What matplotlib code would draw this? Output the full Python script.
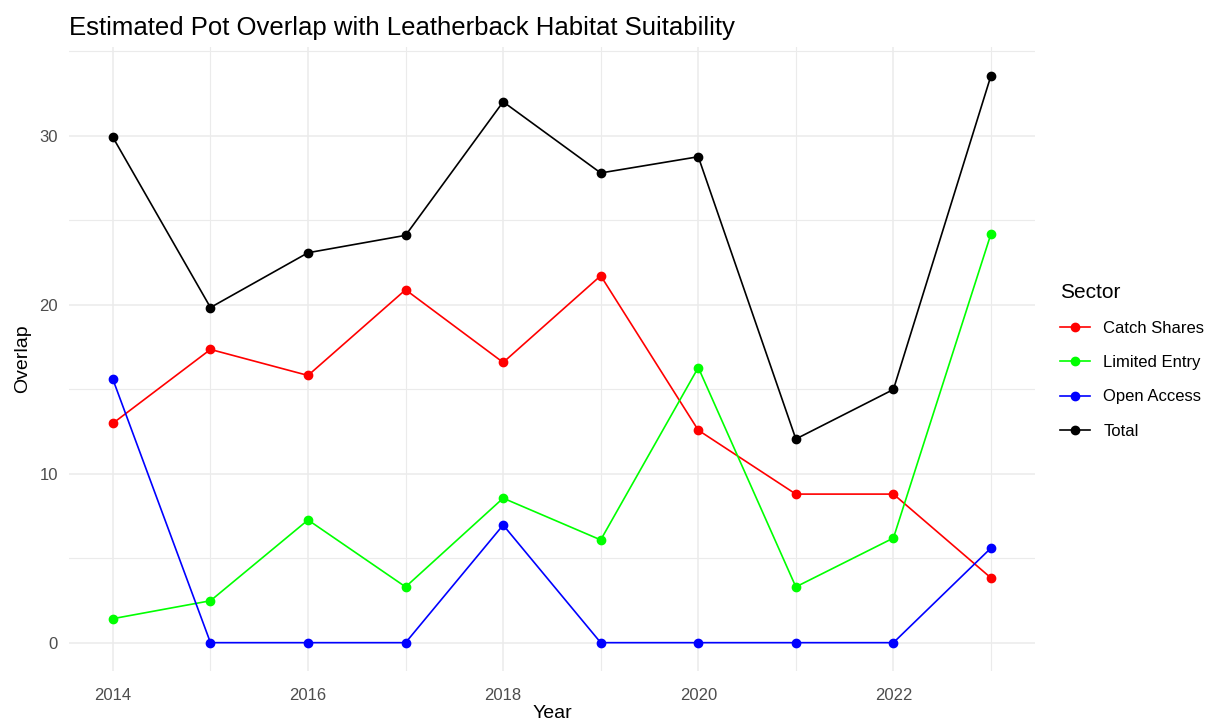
import matplotlib
matplotlib.use("Agg")
from matplotlib import pyplot as plt
from matplotlib.ticker import MultipleLocator

years = [2014, 2015, 2016, 2017, 2018, 2019, 2020, 2021, 2022, 2023]
catch_shares = [12.98, 17.35, 15.81, 20.88, 16.58, 21.71, 12.57, 8.79, 8.79, 3.83]
limited_entry = [1.42, 2.48, 7.26, 3.30, 8.55, 6.08, 16.28, 3.30, 6.19, 24.19]
open_access = [15.58, 0, 0, 0, 6.96, 0, 0, 0, 0, 5.60]
total = [29.90, 19.83, 23.07, 24.10, 32.00, 27.79, 28.75, 12.05, 14.98, 33.55]

sectors = ["Catch Shares", "Limited Entry", "Open Access", "Total"]
colors = ["#FF0000", "#00FF00", "#0000FF", "#000000"]

plt.rcParams["font.family"] = ["Liberation Sans", "DejaVu Sans"]

fig = plt.figure(figsize=(12.32, 7.27), dpi=100)
ax = fig.add_axes([0.056, 0.077, 0.784, 0.858])

for name, vals, c in zip(sectors, [catch_shares, limited_entry, open_access, total], colors):
    ax.plot(years, vals, color=c, lw=1.2, marker="o", markersize=6, label=name, zorder=3)

lo, hi = 0, max(total)
pad = (hi - lo) * 0.05
ax.set_ylim(lo - pad, hi + pad)
ax.set_xlim(2014 - 0.45, 2023 + 0.45)

ax.xaxis.set_major_locator(MultipleLocator(2))
ax.xaxis.set_minor_locator(MultipleLocator(1))
ax.yaxis.set_major_locator(MultipleLocator(10))
ax.yaxis.set_minor_locator(MultipleLocator(5))

ax.grid(which="major", color="#EBEBEB", lw=1.1, zorder=0)
ax.grid(which="minor", color="#EBEBEB", lw=0.8, zorder=0)
ax.set_axisbelow(True)
for s in ax.spines.values():
    s.set_visible(False)
ax.tick_params(which="both", length=0, labelsize=12, labelcolor="#4D4D4D", pad=12)
ax.tick_params(axis="y", pad=8)

ax.set_xlabel("Year", fontsize=14, labelpad=2)
ax.set_ylabel("Overlap", fontsize=14, labelpad=6)
ax.set_title("Estimated Pot Overlap with Leatherback Habitat Suitability",
             fontsize=18.5, loc="left", x=0.0, pad=9)

leg = ax.legend(title="Sector", loc="upper left", bbox_to_anchor=(0.855, 0.62),
                bbox_transform=fig.transFigure, frameon=False, fontsize=12,
                title_fontsize=15, handlelength=1.8, labelspacing=1.15,
                borderaxespad=0)
leg._legend_box.align = "left"

fig.savefig("out.png", dpi=100)
